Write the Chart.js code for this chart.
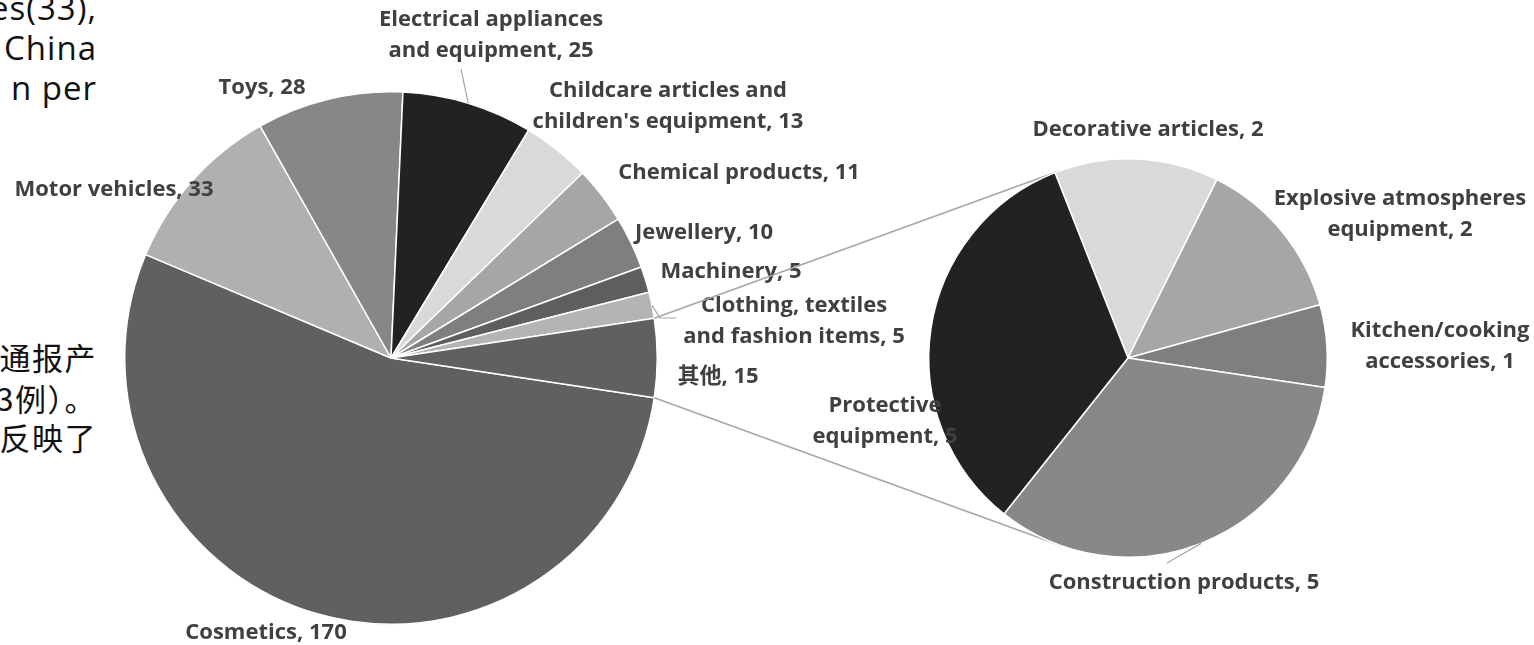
<!DOCTYPE html>
<html>
<head>
<meta charset="utf-8">
<script src="https://cdn.jsdelivr.net/npm/chart.js"></script>
<style>
  body { margin: 0; width: 1534px; height: 645px; overflow: hidden; background: #fff; position: relative; }
  canvas { position: absolute; left: 0; top: 0; }
  .doc { position: absolute; left: -400px; width: 497px; text-align: right; white-space: nowrap; color: #111; }
  .en { font: 33px "Open Sans", sans-serif; letter-spacing: 1px; line-height: 40px; }
  .zh { font: 31px "Noto Sans CJK SC", sans-serif; letter-spacing: 1.5px; line-height: 40px; }
</style>
</head>
<body>
<div class="doc en" style="top:-12px">vehicles(33),</div>
<div class="doc en" style="top:28px">China</div>
<div class="doc en" style="top:68px">n per</div>
<div class="doc zh" style="top:337px">通报产</div>
<div class="doc zh" style="top:378px">23例）。</div>
<div class="doc zh" style="top:417px">反映了</div>

<canvas id="mainPie" width="1534" height="645"></canvas>
<canvas id="subPie" width="1534" height="645"></canvas>

<script>
// main pie (第一个饼)
const mainLabels = ['Cosmetics', 'Motor vehicles', 'Toys', 'Electrical appliances\nand equipment',
  "Childcare articles and\nchildren's equipment", 'Chemical products', 'Jewellery', 'Machinery',
  'Clothing, textiles\nand fashion items', '其他'];
const mainValues = [170, 33, 28, 25, 13, 11, 10, 5, 5, 15];
const mainColors = ['#606060', '#b0b0b0', '#878787', '#222222', '#d9d9d9', '#a6a6a6', '#7f7f7f', '#5e5e5e', '#b4b4b4', '#606060'];

// second pie = breakdown of 其他
const subLabels = ['Decorative articles', 'Explosive atmospheres\nequipment', 'Kitchen/cooking\naccessories',
  'Construction products', 'Protective\nequipment'];
const subValues = [2, 2, 1, 5, 5];
const subColors = ['#d9d9d9', '#a6a6a6', '#7f7f7f', '#888888', '#222222'];

// label centres
const mainLabelPos = [[266, 633], [114, 190], [262, 88], [491, 35], [668, 106], [739, 173], [704, 233], [731, 272], [794, 321], [718, 377]];
const subLabelPos = [[1148, 130], [1400, 214], [1440, 346], [1184, 583], [885, 421]];

const FONT = 'bold 22px "Open Sans", "Noto Sans CJK SC", sans-serif';
const LINE_H = 31;

function edgePoint(arc, r) {
  const p = arc.getProps(['x', 'y', 'startAngle', 'endAngle', 'outerRadius'], true);
  const a = (p.startAngle + p.endAngle) / 2;
  const rr = r || p.outerRadius;
  return [p.x + rr * Math.cos(a), p.y + rr * Math.sin(a)];
}

function labelPlugin(labels, values, pos, leaders) {
  return {
    id: 'labels',
    afterDatasetsDraw(chart) {
      const ctx = chart.ctx;
      const arcs = chart.getDatasetMeta(0).data;
      ctx.save();
      // leader lines
      ctx.strokeStyle = '#a6a6a6';
      ctx.lineWidth = 1.2;
      leaders.forEach(l => {
        const s = edgePoint(arcs[l.i]);
        ctx.beginPath();
        ctx.moveTo(s[0], s[1]);
        l.to.forEach(p => ctx.lineTo(p[0], p[1]));
        ctx.stroke();
      });
      ctx.font = FONT;
      ctx.fillStyle = '#404040';
      ctx.textAlign = 'center';
      ctx.textBaseline = 'middle';
      labels.forEach((lab, i) => {
        const lines = (lab + ', ' + values[i]).split('\n');
        const y0 = pos[i][1] - (lines.length - 1) * LINE_H / 2;
        lines.forEach((t, k) => ctx.fillText(t, pos[i][0], y0 + k * LINE_H));
      });
      ctx.restore();
    }
  };
}

function pieOptions(pad, rotation) {
  return {
    responsive: false,
    animation: false,
    events: [],
    rotation: rotation,
    layout: { padding: pad },
    plugins: { legend: { display: false }, tooltip: { enabled: false } }
  };
}

const mainTotal = mainValues.reduce((a, b) => a + b, 0);
const otherIdx = mainLabels.indexOf('其他');

const mainChart = new Chart(document.getElementById('mainPie'), {
  type: 'pie',
  data: {
    labels: mainLabels,
    datasets: [{ data: mainValues, backgroundColor: mainColors, borderColor: '#ffffff', borderWidth: 1.5 }]
  },
  // 其他 centred on 3 o'clock like Excel pie-of-pie
  options: pieOptions({ left: 124, right: 876, top: 91, bottom: 20 }, 90 + mainValues[otherIdx] / mainTotal * 180),
  plugins: [labelPlugin(mainLabels, mainValues, mainLabelPos, [
    { i: 3, to: [[461, 69]] },
    { i: 8, to: [[660, 318], [676, 318]] }
  ])]
});

// tangent lines from 其他 slice edges to second pie
const connectorPlugin = {
  id: 'connectors',
  beforeDatasetsDraw(chart) {
    const o = mainChart.getDatasetMeta(0).data[otherIdx].getProps(['x', 'y', 'startAngle', 'endAngle', 'outerRadius'], true);
    const s = chart.getDatasetMeta(0).data[0].getProps(['x', 'y', 'outerRadius'], true);
    const ctx = chart.ctx;
    ctx.save();
    ctx.strokeStyle = '#a6a6a6';
    ctx.lineWidth = 1.5;
    [[o.startAngle, -1], [o.endAngle, 1]].forEach(([ang, side]) => {
      const px = o.x + o.outerRadius * Math.cos(ang);
      const py = o.y + o.outerRadius * Math.sin(ang);
      const d = Math.hypot(px - s.x, py - s.y);
      const base = Math.atan2(py - s.y, px - s.x);
      const t = base - side * Math.acos(s.outerRadius / d);
      ctx.beginPath();
      ctx.moveTo(px, py);
      ctx.lineTo(s.x + s.outerRadius * Math.cos(t), s.y + s.outerRadius * Math.sin(t));
      ctx.stroke();
    });
    ctx.restore();
  }
};

new Chart(document.getElementById('subPie'), {
  type: 'pie',
  data: {
    labels: subLabels,
    datasets: [{ data: subValues, backgroundColor: subColors, borderColor: '#ffffff', borderWidth: 1.5 }]
  },
  options: pieOptions({ left: 928, right: 206, top: 158, bottom: 87 }, -21.5),
  plugins: [connectorPlugin, labelPlugin(subLabels, subValues, subLabelPos, [
    { i: 3, to: [[1167, 563]] }
  ])]
});
</script>
</body>
</html>
